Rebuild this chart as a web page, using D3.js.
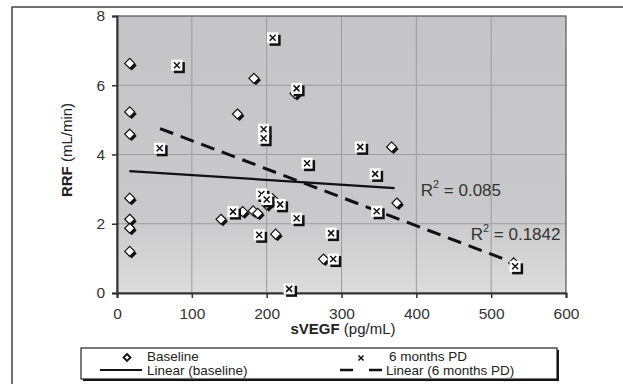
<!DOCTYPE html>
<html>
<head>
<meta charset="utf-8">
<script src="https://cdn.jsdelivr.net/npm/d3@7"></script>
<style>
  body { margin: 0; background: #fff; }
  svg { display: block; font-family: 'Liberation Sans', Arial, sans-serif; }
</style>
</head>
<body>
<div id="chart"></div>
<script>
// values
const xTicks = [0, 100, 200, 300, 400, 500, 600];
const yTicks = [0, 2, 4, 6, 8];

const baselineX = [17, 17, 17, 17, 17, 17, 17, 183, 161, 238, 367, 139, 168, 182, 188, 200, 208, 212, 276, 374, 530];
const baselineY = [6.63, 5.23, 4.59, 2.74, 2.13, 1.87, 1.20, 6.2, 5.17, 5.76, 4.22, 2.13, 2.35, 2.37, 2.3, 2.55, 2.72, 1.7, 0.98, 2.6, 0.87];

const pdX = [80, 57, 208, 240, 196, 196, 325, 254, 345, 193, 200, 218, 155, 240, 347, 286, 190, 289, 230, 532];
const pdY = [6.58, 4.18, 7.37, 5.91, 4.73, 4.47, 4.22, 3.75, 3.44, 2.86, 2.7, 2.56, 2.35, 2.16, 2.36, 1.73, 1.68, 0.98, 0.12, 0.77];

// trend line end points [x0, y0, x1, y1]
const trendBaseline = [16.5, 3.52, 371, 3.03];
const trendPD = [57.5, 4.75, 516, 0.99];

const r2Labels = [
  { value: '0.085', x: 420.7, y: 196 },
  { value: '0.1842', x: 470.7, y: 239.5 }
];

const width = 623, height = 384;
const margin = { left: 117, top: 16, right: 57, bottom: 91 };
const w = width - margin.left - margin.right;
const h = height - margin.top - margin.bottom;

const svg = d3.select('#chart').append('svg')
  .attr('width', width).attr('height', height);

// outer frame (top + left edges)
svg.append('path')
  .attr('d', `M12,${height} L12,7 L${width},7`)
  .attr('fill', 'none').attr('stroke', '#444').attr('stroke-width', 1.5);

const defs = svg.append('defs');
const grad = defs.append('linearGradient').attr('id', 'bg')
  .attr('x1', 0).attr('y1', 0).attr('x2', 0).attr('y2', 1);
grad.append('stop').attr('offset', '0%').attr('stop-color', '#c5c5c7');
grad.append('stop').attr('offset', '72%').attr('stop-color', '#c9c9cb');
grad.append('stop').attr('offset', '100%').attr('stop-color', '#dcdcdc');

const x = d3.scaleLinear().domain([0, 600]).range([0, w]);
const y = d3.scaleLinear().domain([0, 8]).range([h, 0]);

const g = svg.append('g').attr('transform', `translate(${margin.left},${margin.top})`);

g.append('rect').attr('width', w).attr('height', h).attr('fill', 'url(#bg)');

// grid
g.append('g').selectAll('line.vx').data(xTicks.slice(1, -1)).enter().append('line')
  .attr('x1', d => x(d)).attr('x2', d => x(d)).attr('y1', 0).attr('y2', h)
  .attr('stroke', '#9c9c9e').attr('stroke-width', 1);
g.append('g').selectAll('line.hy').data(yTicks.slice(1, -1)).enter().append('line')
  .attr('y1', d => y(d)).attr('y2', d => y(d)).attr('x1', 0).attr('x2', w)
  .attr('stroke', '#9c9c9e').attr('stroke-width', 1);

// plot border
g.append('rect').attr('width', w).attr('height', h)
  .attr('fill', 'none').attr('stroke', '#555').attr('stroke-width', 1.2);

// axes
const axisX = g.append('g').attr('transform', `translate(0,${h})`)
  .call(d3.axisBottom(x).tickValues(xTicks).tickSize(5).tickPadding(10));
const axisY = g.append('g')
  .call(d3.axisLeft(y).tickValues(yTicks).tickSize(5).tickPadding(7));
[axisX, axisY].forEach(a => {
  a.select('path.domain').attr('stroke', '#333').attr('stroke-width', 2);
  a.selectAll('.tick line').attr('stroke', '#333').attr('stroke-width', 1.5);
  a.selectAll('.tick text').attr('fill', '#333').attr('font-size', 15.5);
});

// axis titles
const xt = svg.append('text').attr('x', 343).attr('y', 334)
  .attr('text-anchor', 'middle').attr('font-size', 15).attr('fill', '#222');
xt.append('tspan').attr('font-weight', 'bold').text('sVEGF');
xt.append('tspan').text(' (pg/mL)');

const yt = svg.append('text').attr('transform', 'translate(72,150) rotate(-90)')
  .attr('text-anchor', 'middle').attr('font-size', 15).attr('fill', '#222');
yt.append('tspan').attr('font-weight', 'bold').text('RRF');
yt.append('tspan').text(' (mL/min)');

// trend lines
g.append('line')
  .attr('x1', x(trendBaseline[0])).attr('y1', y(trendBaseline[1]))
  .attr('x2', x(trendBaseline[2])).attr('y2', y(trendBaseline[3]))
  .attr('stroke', '#111').attr('stroke-width', 2.2);
g.append('line')
  .attr('x1', x(trendPD[0])).attr('y1', y(trendPD[1]))
  .attr('x2', x(trendPD[2])).attr('y2', y(trendPD[3]))
  .attr('stroke', '#111').attr('stroke-width', 3).attr('stroke-dasharray', '14,8');

const diamond = s => `M0,${-s}L${s},0L0,${s}L${-s},0Z`;

// baseline markers
const bData = baselineX.map((v, i) => ({ x: v, y: baselineY[i] }));
const bg = g.append('g').selectAll('g').data(bData).enter().append('g')
  .attr('transform', d => `translate(${x(d.x)},${y(d.y)})`);
bg.append('path').attr('d', diamond(5)).attr('transform', 'translate(2,2)').attr('fill', '#111');
bg.append('path').attr('d', diamond(5)).attr('fill', '#fff').attr('stroke', '#111').attr('stroke-width', 1.2);

// 6 months PD markers
const pData = pdX.map((v, i) => ({ x: v, y: pdY[i] }));
const pg = g.append('g').selectAll('g').data(pData).enter().append('g')
  .attr('transform', d => `translate(${x(d.x)},${y(d.y)})`);
pg.append('rect').attr('x', -3).attr('y', -3).attr('width', 11).attr('height', 11).attr('fill', '#111');
pg.append('rect').attr('x', -5.5).attr('y', -5.5).attr('width', 11).attr('height', 11).attr('fill', '#fff');
pg.append('path').attr('d', 'M-3,-3L3,3M3,-3L-3,3').attr('stroke', '#111').attr('stroke-width', 1.5);

// R² labels
r2Labels.forEach(l => {
  const t = svg.append('text').attr('x', l.x).attr('y', l.y)
    .attr('font-size', 17).attr('fill', '#333');
  t.append('tspan').text('R');
  t.append('tspan').attr('font-size', 11).attr('dy', -8).text('2');
  t.append('tspan').attr('dy', 8).text(' = ' + l.value);
});

// legend
const lg = svg.append('g');
lg.append('rect').attr('x', 83).attr('y', 350).attr('width', 476).attr('height', 31).attr('fill', '#111');
lg.append('rect').attr('x', 81).attr('y', 348).attr('width', 476).attr('height', 31)
  .attr('fill', '#fff').attr('stroke', '#222').attr('stroke-width', 1.2);

lg.append('path').attr('d', diamond(3.5)).attr('transform', 'translate(127,357.5)')
  .attr('fill', '#fff').attr('stroke', '#111').attr('stroke-width', 1.8);
lg.append('line').attr('x1', 100).attr('x2', 142).attr('y1', 370).attr('y2', 370)
  .attr('stroke', '#111').attr('stroke-width', 2);
lg.append('path').attr('d', 'M-2.5,-2.5L2.5,2.5M2.5,-2.5L-2.5,2.5')
  .attr('transform', 'translate(361,358)').attr('stroke', '#111').attr('stroke-width', 1.5);
lg.append('line').attr('x1', 340).attr('x2', 382).attr('y1', 370).attr('y2', 370)
  .attr('stroke', '#111').attr('stroke-width', 2.5).attr('stroke-dasharray', '13,16');

const legendText = [
  { t: 'Baseline', x: 147, y: 361 },
  { t: 'Linear (baseline)', x: 147, y: 375 },
  { t: '6 months PD', x: 389, y: 361 },
  { t: 'Linear (6 months PD)', x: 386, y: 375 }
];
lg.selectAll('text.lt').data(legendText).enter().append('text')
  .attr('x', d => d.x).attr('y', d => d.y).attr('font-size', 13.5).attr('fill', '#222')
  .text(d => d.t);
</script>
</body>
</html>
